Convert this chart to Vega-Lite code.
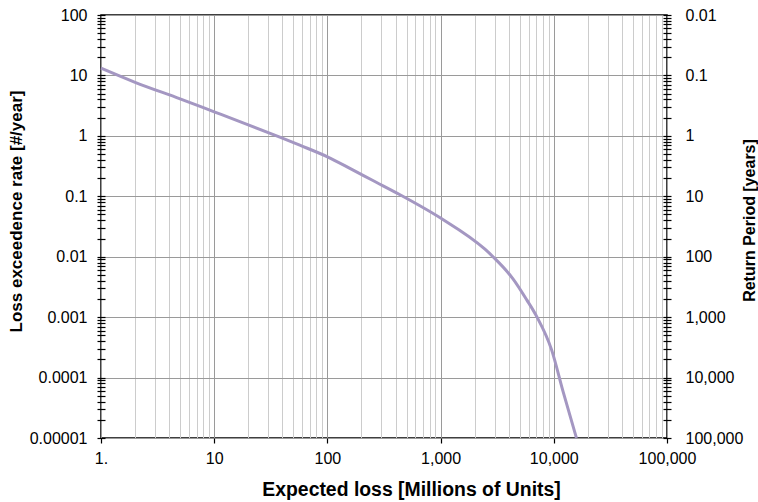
{
  "$schema": "https://vega.github.io/schema/vega-lite/v6.json",
  "width": 566,
  "height": 423,
  "autosize": {"type": "none"},
  "padding": {"left": 101, "top": 15, "right": 91, "bottom": 64},
  "background": "white",
  "config": {
    "view": {"stroke": "#000000", "strokeWidth": 1.5},
    "axis": {
      "domain": false,
      "ticks": true,
      "labelFont": "Liberation Sans",
      "labelFontSize": 16,
      "labelColor": "#000000",
      "tickColor": "#000000",
      "tickWidth": 1.2,
      "titleFont": "Liberation Sans",
      "titleFontWeight": "bold",
      "titleColor": "#000000",
      "labelOverlap": false,
      "labelFlush": false,
      "labelBound": false
    }
  },
  "data": {
    "values": [
      {"loss": 1, "rate": 13.2},
      {"loss": 2, "rate": 7.7},
      {"loss": 5, "rate": 4.1},
      {"loss": 10, "rate": 2.5},
      {"loss": 20, "rate": 1.52},
      {"loss": 38, "rate": 0.95},
      {"loss": 57, "rate": 0.7},
      {"loss": 100, "rate": 0.45},
      {"loss": 158, "rate": 0.29},
      {"loss": 250, "rate": 0.184},
      {"loss": 438, "rate": 0.106},
      {"loss": 1000, "rate": 0.0436},
      {"loss": 2466, "rate": 0.0133},
      {"loss": 2917, "rate": 0.0099},
      {"loss": 4360, "rate": 0.0043},
      {"loss": 5750, "rate": 0.00195},
      {"loss": 7050, "rate": 0.00103},
      {"loss": 9550, "rate": 0.00029},
      {"loss": 12100, "rate": 0.000058},
      {"loss": 15850, "rate": 0.00001}
    ]
  },
  "encoding": {
    "x": {
      "field": "loss",
      "type": "quantitative",
      "scale": {"type": "log", "domain": [1, 100000], "nice": false},
      "axis": {
        "title": "Expected loss [Millions of Units]",
        "titleFontSize": 19.4,
        "titleX": 310,
        "titleY": 57,
        "titleBaseline": "alphabetic",
        "titleAlign": "center",
        "values": [1,2,3,4,5,6,7,8,9,10,20,30,40,50,60,70,80,90,100,200,300,400,500,600,700,800,900,1000,2000,3000,4000,5000,6000,7000,8000,9000,10000,20000,30000,40000,50000,60000,70000,80000,90000,100000],
        "labelExpr": "abs(log(datum.value)/LN10 - round(log(datum.value)/LN10)) < 0.001 ? (datum.value == 1 ? '1.' : format(datum.value, ',')) : ''",
        "labelPadding": 7,
        "grid": true,
        "gridWidth": 1,
        "gridColor": {"condition": {"test": "abs(log(datum.value)/LN10 - round(log(datum.value)/LN10)) < 0.001", "value": "#9a9a9a"}, "value": "#cccccc"},
        "tickSize": 5,
        "tickOpacity": {"condition": {"test": "abs(log(datum.value)/LN10 - round(log(datum.value)/LN10)) < 0.001", "value": 1}, "value": 0}
      }
    }
  },
  "layer": [
    {
      "mark": {"type": "line", "color": "#a497c2", "strokeWidth": 3, "interpolate": "monotone"},
      "encoding": {
        "y": {
          "field": "rate",
          "type": "quantitative",
          "scale": {"type": "log", "domain": [0.00001, 100], "nice": false},
          "axis": {
            "orient": "left",
            "title": "Loss exceedence rate [#/year]",
            "titleFontSize": 17,
            "titleX": -84,
            "titleY": 196,
            "titleBaseline": "alphabetic",
            "titleAlign": "center",
            "titleAngle": 270,
            "offset": -4,
            "tickSize": 8,
            "labelPadding": 10,
            "values": [0.00001,0.00002,0.00003,0.00004,0.00005,0.00006,0.00007,0.00008,0.00009,0.0001,0.0002,0.0003,0.0004,0.0005,0.0006,0.0007,0.0008,0.0009,0.001,0.002,0.003,0.004,0.005,0.006,0.007,0.008,0.009,0.01,0.02,0.03,0.04,0.05,0.06,0.07,0.08,0.09,0.1,0.2,0.3,0.4,0.5,0.6,0.7,0.8,0.9,1,2,3,4,5,6,7,8,9,10,20,30,40,50,60,70,80,90,100],
            "labelExpr": "abs(log(datum.value)/LN10 - round(log(datum.value)/LN10)) < 0.001 ? format(datum.value, '.5~f') : ''",
            "grid": true,
            "gridWidth": 1,
            "gridColor": "#9a9a9a",
            "gridOpacity": {"condition": {"test": "abs(log(datum.value)/LN10 - round(log(datum.value)/LN10)) < 0.001", "value": 1}, "value": 0}
          }
        }
      }
    },
    {
      "mark": {"type": "line", "opacity": 0},
      "encoding": {
        "y": {
          "field": "rate",
          "type": "quantitative",
          "scale": {"type": "log", "domain": [0.00001, 100], "nice": false},
          "axis": {
            "orient": "right",
            "title": "Return Period [years]",
            "titleFontSize": 16,
            "titleX": 91,
            "titleY": 205,
            "titleBaseline": "alphabetic",
            "titleAlign": "center",
            "titleAngle": 270,
            "offset": -4,
            "tickSize": 8,
            "labelPadding": 14,
            "grid": false,
            "values": [0.00001,0.00002,0.00003,0.00004,0.00005,0.00006,0.00007,0.00008,0.00009,0.0001,0.0002,0.0003,0.0004,0.0005,0.0006,0.0007,0.0008,0.0009,0.001,0.002,0.003,0.004,0.005,0.006,0.007,0.008,0.009,0.01,0.02,0.03,0.04,0.05,0.06,0.07,0.08,0.09,0.1,0.2,0.3,0.4,0.5,0.6,0.7,0.8,0.9,1,2,3,4,5,6,7,8,9,10,20,30,40,50,60,70,80,90,100],
            "labelExpr": "abs(log(datum.value)/LN10 - round(log(datum.value)/LN10)) < 0.001 ? (datum.value > 1 ? format(1/datum.value, '.2~f') : format(round(1/datum.value), ',')) : ''"
          }
        }
      }
    }
  ],
  "resolve": {"axis": {"y": "independent"}}
}
